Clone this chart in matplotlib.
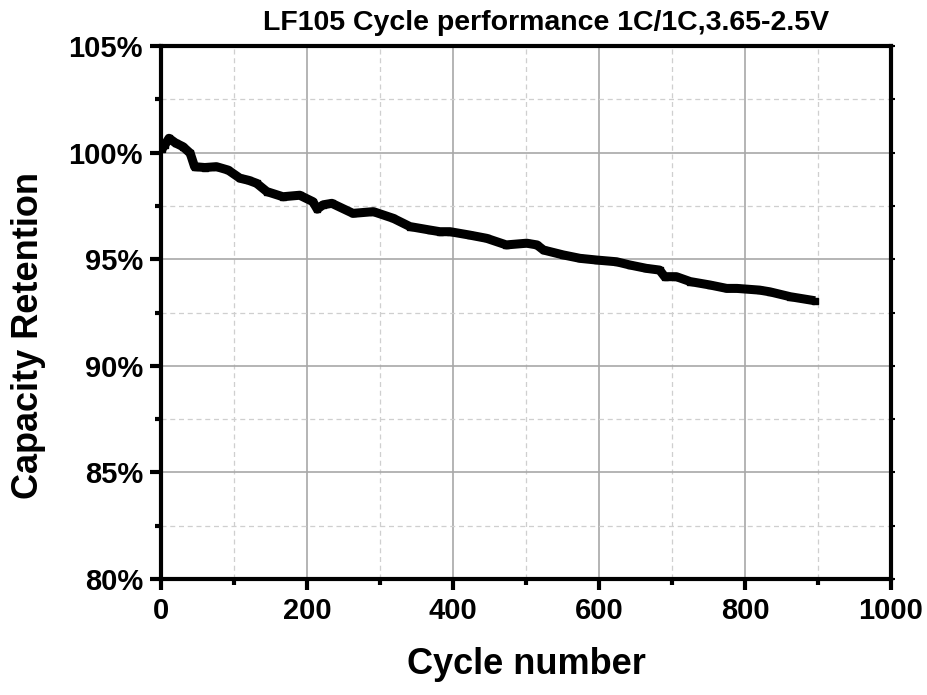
import matplotlib
matplotlib.use("Agg")
import matplotlib.pyplot as plt
from matplotlib.ticker import MultipleLocator, FuncFormatter

cycles = [1, 5, 11, 20, 30, 40, 46, 60, 76, 92, 108, 120, 131, 145, 167, 190, 208, 214,
          222, 234, 263, 291, 318, 341, 368, 382, 396, 423, 446, 473, 501, 515, 524, 551,
          574, 597, 624, 642, 665, 683, 690, 706, 725, 752, 775, 789, 820, 834, 862, 896]
retention = [100.15, 100.35, 100.67, 100.45, 100.28, 99.97, 99.34, 99.3, 99.34, 99.18,
             98.8, 98.7, 98.56, 98.17, 97.93, 98.0, 97.7, 97.35, 97.55, 97.62, 97.15,
             97.23, 96.92, 96.53, 96.37, 96.29, 96.29, 96.13, 95.98, 95.67, 95.75, 95.67,
             95.43, 95.2, 95.04, 94.96, 94.88, 94.73, 94.57, 94.49, 94.18, 94.18, 93.95,
             93.79, 93.63, 93.63, 93.55, 93.47, 93.24, 93.05]

title = "LF105 Cycle performance 1C/1C,3.65-2.5V"
xlabel = "Cycle number"
ylabel = "Capacity Retention"

plt.rcParams['font.family'] = ['Liberation Sans', 'DejaVu Sans']
plt.rcParams['font.weight'] = 'bold'

fig = plt.figure(figsize=(9.28, 6.95), dpi=100)
ax = fig.add_axes([161/928, 1-579/695, (891-161)/928, (579-46)/695])

ax.plot(cycles, retention, color='black', lw=6.5, marker='s', ms=5,
        solid_joinstyle='round', solid_capstyle='butt', zorder=3)

ax.set_xlim(0, 1000)
ax.set_ylim(80, 105)
ax.xaxis.set_major_locator(MultipleLocator(200))
ax.xaxis.set_minor_locator(MultipleLocator(100))
ax.yaxis.set_major_locator(MultipleLocator(5))
ax.yaxis.set_minor_locator(MultipleLocator(2.5))
ax.yaxis.set_major_formatter(FuncFormatter(lambda v, p: f"{v:.0f}%"))

ax.grid(which='major', color='#a8a8a8', lw=1.2, ls='-', zorder=0)
ax.grid(which='minor', color='#cfcfcf', lw=0.9, ls=(0, (4, 3)), zorder=0)
ax.set_axisbelow(True)

for s in ax.spines.values():
    s.set_linewidth(3)

ax.tick_params(which='major', direction='out', length=8, width=3, labelsize=21, pad=5)
ax.tick_params(which='minor', direction='out', length=4.5, width=3)
ax.tick_params(which='both', right=True, top=False)
ax.tick_params(axis='y', which='both', labelright=False)
for t in ax.get_xticklabels() + ax.get_yticklabels():
    t.set_fontweight('bold')

for tick in ax.yaxis.get_major_ticks() + ax.yaxis.get_minor_ticks():
    tick.tick2line.set_markersize(3)
    tick.tick2line.set_markeredgewidth(1.5)

ax.set_xlabel(xlabel, fontsize=26, fontweight='bold', labelpad=16)
ax.set_ylabel(ylabel, fontsize=26, fontweight='bold')
ax.yaxis.set_label_coords(-0.158, 0.456)

fig.text(546/928, 1-30/695, title, ha='center', va='baseline',
         fontsize=20.5, fontweight='bold')

fig.savefig("out.png", dpi=100)
